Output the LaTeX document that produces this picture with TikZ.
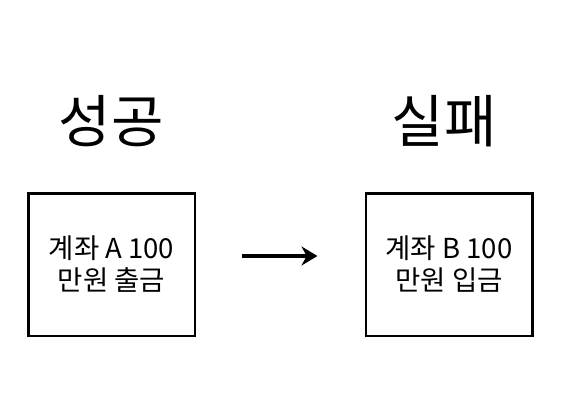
\documentclass[tikz,border=0pt]{standalone}
\usepackage{fontspec}
\setmainfont{Noto Sans CJK KR}
\usetikzlibrary{arrows.meta}
\tikzset{
    account/.style={draw, line width=2.5pt, minimum width=166.5pt, minimum height=142.5pt, inner sep=0pt, align=center, font=\fontsize{27.5}{32}\selectfont},
    status/.style={font=\fontsize{57}{60}\selectfont},
    flow/.style={line width=4.5pt, -{Stealth[length=16pt,width=19pt]}},
}
\begin{document}
\begin{tikzpicture}[x=1pt,y=-1pt]
            \useasboundingbox (0,0) rectangle (570,412);
            \node[account] (withdraw) at (111.5,264.5) {계좌 A 100\\만원 출금};
            \node[account] (deposit) at (449,264.5) {계좌 B 100\\만원 입금};
            \foreach \n/\x/\t in {okTitle/111/성공,failTitle/444/실패} {
                \node[status] (\n) at (\x,121) {\t};
            }
            \draw[flow, shorten <=46pt, shorten >=47pt] ([yshift=8.5pt]withdraw.east) -- ([yshift=8.5pt]deposit.west);
        \end{tikzpicture}
\end{document}
